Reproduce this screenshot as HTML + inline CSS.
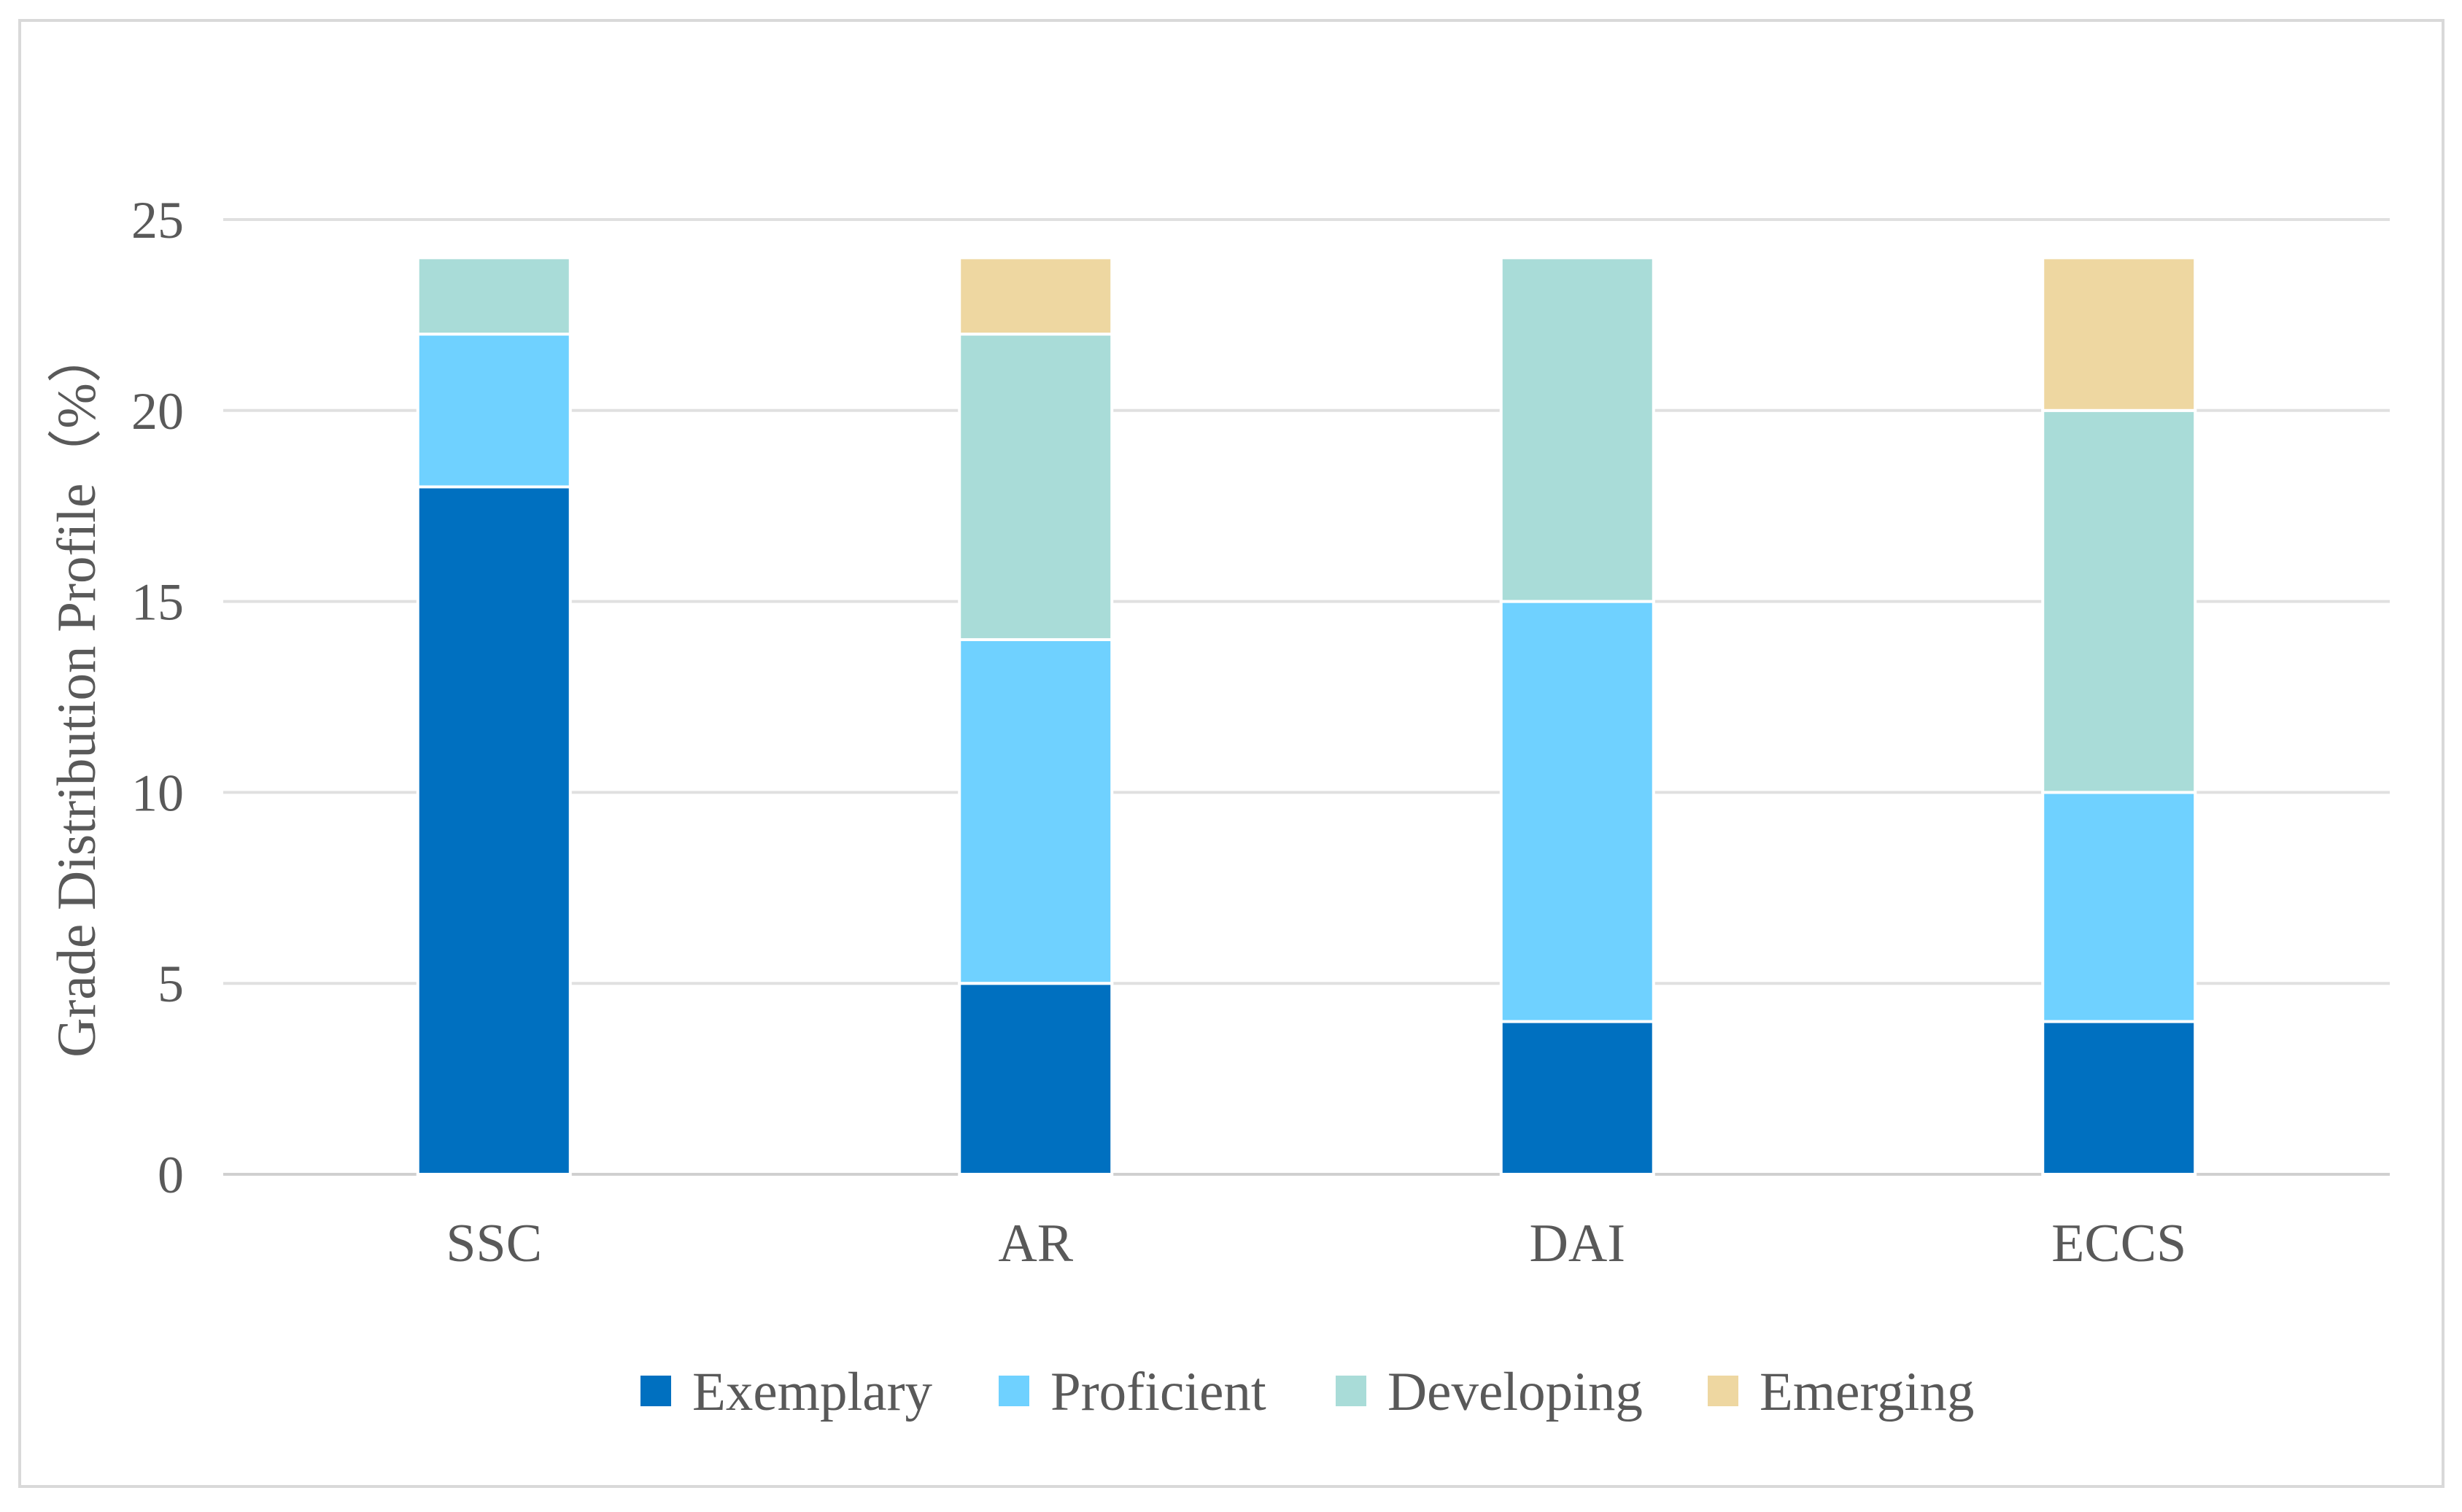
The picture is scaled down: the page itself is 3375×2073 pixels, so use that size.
<!DOCTYPE html>
<html><head><meta charset="utf-8"><style>
html,body{margin:0;padding:0;background:#fff;}
svg{display:block;}
text{font-family:"Liberation Serif",serif;fill:#595959;}
</style></head><body>
<svg id="chart" width="3375" height="2073" viewBox="0 0 3375 2073" xmlns="http://www.w3.org/2000/svg">
<rect x="27" y="28" width="3322" height="2010" fill="#fff" stroke="#d9d9d9" stroke-width="4"/>
<g id="grid"></g><g id="bars"></g><g id="labels"></g>
<text transform="translate(130,950) rotate(-90)" text-anchor="middle" font-size="75">Grade Distribution Profile（%）</text>
<g id="legend"></g>
</svg>
<script>
const categories=["SSC","AR","DAI","ECCS"];
const seriesNames=["Exemplary","Proficient","Developing","Emerging"];
const colors=["#0070C0","#6FD1FF","#A9DCD8","#EED7A1"];
const exemplary=[18,5,4,4];
const proficient=[4,9,11,6];
const developing=[2,8,9,10];
const emerging=[0,2,0,4];
const yTicks=[0,5,10,15,20,25];
const series=[exemplary,proficient,developing,emerging];
const NS="http://www.w3.org/2000/svg";
const x0=306,x1=3276,yTop=301,yBot=1610,yMax=25;
const y=v=>yBot-(v/yMax)*(yBot-yTop);
const band=(x1-x0)/categories.length;
const cx=i=>x0+band*(i+0.5);
const bw=209;
function mk(t,a,p){const e=document.createElementNS(NS,t);for(const k in a)e.setAttribute(k,a[k]);p.appendChild(e);return e;}
const grid=document.getElementById('grid'),bars=document.getElementById('bars'),labels=document.getElementById('labels'),legend=document.getElementById('legend');
yTicks.forEach(t=>{
 const l=mk('line',{x1:x0,x2:x1,y1:y(t),y2:y(t),stroke:t===0?'#d0d0d0':'#e0e0e0','stroke-width':4},grid);
 
 
 const tx=mk('text',{x:252,y:y(t)+25,'text-anchor':'end','font-size':72},labels);
 tx.textContent=t;
 
 
});
categories.forEach((c,i)=>{
 let acc=0;
 series.forEach((s,k)=>{
  const v=s[i]; if(!v){return;}
  const r=mk('rect',{x:cx(i)-bw/2,y:y(acc+v),width:bw,height:y(acc)-y(acc+v),fill:colors[k],stroke:'#fff','stroke-width':4},bars);
  
  
  acc+=v;
 });
 const t=mk('text',{x:cx(i),y:1729,'text-anchor':'middle','font-size':74},labels);
 t.textContent=c;
 
 
});
const lx=[878,1369,1831,2341];
seriesNames.forEach((n,k)=>{
 const g=mk('g',{},legend);
 
 
 mk('rect',{x:lx[k],y:1886,width:42,height:42,fill:colors[k]},g);
 const t=mk('text',{x:lx[k]+71,y:1933,'font-size':75},g);
 t.textContent=n;
});
</script>
</body></html>
